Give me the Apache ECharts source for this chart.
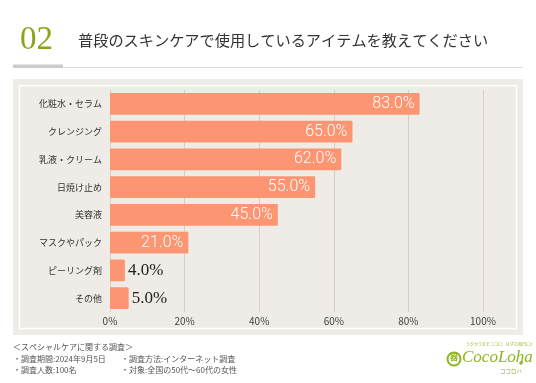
<!DOCTYPE html>
<html><head><meta charset="utf-8">
<script src="https://cdn.jsdelivr.net/npm/echarts@6/dist/echarts.min.js"></script>
<style>html,body{margin:0;padding:0;background:#fff}#c{width:536px;height:383px}</style>
</head><body><div id="c"></div>
<script>
const categories = ['化粧水・セラム','クレンジング','乳液・クリーム','日焼け止め','美容液','マスクやパック','ピーリング剤','その他'];
const values = [83.0, 65.0, 62.0, 55.0, 45.0, 21.0, 4.0, 5.0];
const xTicks = [0, 20, 40, 60, 80, 100];
const titleNum = '02';
const titleText = '普段のスキンケアで使用しているアイテムを教えてください';
const footerLines = ['＜スペシャルケアに関する調査＞','・調査期間:2024年9月5日','・調査人数:100名'];
const footerLines2 = ['・調査方法:インターネット調査','・対象:全国の50代〜60代の女性'];

const chart = echarts.init(document.getElementById('c'));
const JP = '"Noto Sans CJK JP", "Noto Sans", sans-serif';
const inside = values.map(v => v >= 15);
chart.setOption({
  backgroundColor: '#fff',
  animation: false,
  grid: {left: 110, right: 53, top: 90, bottom: 71},
  xAxis: {
    type: 'value', min: 0, max: 100, interval: 20,
    axisLine: {show: false}, axisTick: {show: false},
    splitLine: {lineStyle: {color: '#d3cec8', width: 1}},
    axisLabel: {formatter: v => v + '%', fontSize: 10, color: '#444', fontFamily: JP, margin: 4}
  },
  yAxis: {
    type: 'category', data: categories, inverse: true,
    axisLine: {show: false}, axisTick: {show: false},
    axisLabel: {fontSize: 9, color: '#333', fontFamily: JP, margin: 8}
  },
  series: [{
    type: 'bar', barCategoryGap: '22%',
    data: values.map((v, i) => ({
      value: v,
      label: inside[i] ? {position: 'insideRight', color: '#fff', fontFamily: 'Roboto, sans-serif', fontWeight: 300, fontSize: 16, distance: 5}
                       : {position: 'right', color: '#222', fontFamily: '"Liberation Serif", serif', fontSize: 17, distance: 3}
    })),
    itemStyle: {color: '#fc9572', borderRadius: 1},
    label: {show: true, formatter: p => p.value.toFixed(1) + '%'}
  }],
  graphic: [
    {type: 'rect', z: -10, shape: {x: 13, y: 79, width: 510, height: 256}, style: {fill: '#efebe6'}},
    {type: 'rect', z: -9, shape: {x: 19.5, y: 85.5, width: 497, height: 243}, style: {fill: 'none', stroke: '#fff', lineWidth: 1.5}},
    {type: 'rect', shape: {x: 13, y: 64.5, width: 50, height: 3.5}, style: {fill: '#cccccc'}},
    {type: 'rect', shape: {x: 63, y: 67, width: 460, height: 1}, style: {fill: '#dddddd'}},
    {type: 'text', left: 20, top: 24, style: {text: titleNum, fill: '#8da41a', font: '300 33px "Liberation Serif", serif'}},
    {type: 'text', left: 78, top: 33, style: {text: titleText, fill: '#333', font: '15.2px "Noto Sans CJK JP", sans-serif'}},
    {type: 'text', left: 13, top: 341, style: {text: footerLines.join('\n'), fill: '#555', font: '8px "Noto Sans CJK JP", sans-serif', lineHeight: 11.7}},
    {type: 'text', left: 121, top: 352.7, style: {text: footerLines2.join('\n'), fill: '#555', font: '8px "Noto Sans CJK JP", sans-serif', lineHeight: 11.7}},
    {type: 'circle', shape: {cx: 454, cy: 359, r: 6.5}, style: {fill: 'none', stroke: '#8db51c', lineWidth: 2}},
    {type: 'text', left: 450, top: 353, style: {text: '器', fill: '#8db51c', font: 'bold 8px "Noto Sans CJK JP", sans-serif'}},
    {type: 'text', left: 462, top: 349, style: {text: 'CocoLoha', fill: '#8db51c', font: 'italic 17px "Liberation Serif", serif'}},
    {type: 'circle', shape: {cx: 521, cy: 363, r: 1.8}, style: {fill: '#8db51c'}},
    {type: 'text', left: 466, top: 342, style: {text: 'ラクカラダとココロ、はずむ毎日に!!', fill: '#8db51c', font: '4px "Noto Sans CJK JP", sans-serif'}},
    {type: 'text', left: 500, top: 368, style: {text: 'ココロハ', fill: '#8db51c', font: '5.5px "Noto Sans CJK JP", sans-serif'}}
  ]
});
</script></body></html>
